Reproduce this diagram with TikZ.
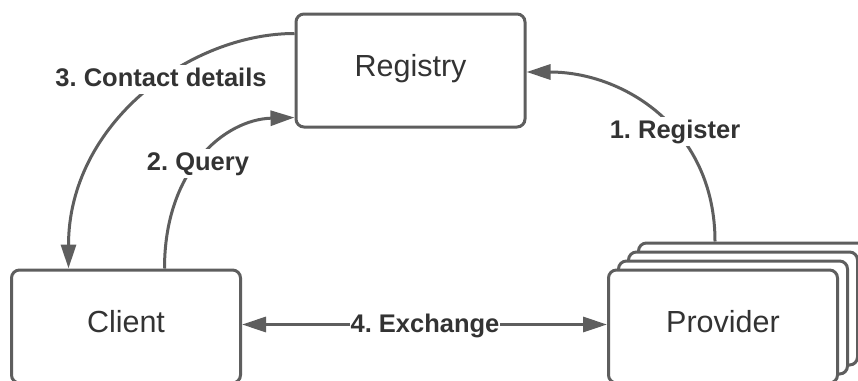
\documentclass[tikz,border=0pt]{standalone}
\usepackage{fontspec}
\setmainfont{Liberation Sans}
\usetikzlibrary{arrows.meta,calc}
\definecolor{edge}{HTML}{5E5E5E}
\definecolor{ink}{HTML}{333333}
\frenchspacing

\begin{document}
\begin{tikzpicture}[x=1pt,y=1pt,
  box/.style={draw=edge, line width=3pt, rounded corners=8pt, fill=white,
    minimum width=229pt, minimum height=113pt, inner sep=0pt,
    font=\fontsize{30.5}{36}\selectfont, text=ink,
    text height=21.8pt, text depth=9pt},
  flow/.style={draw=edge, line width=3pt,
    -{Triangle[length=24pt,width=15pt]}},
  both/.style={draw=edge, line width=3pt,
    {Triangle[length=24pt,width=15pt]}-{Triangle[length=24pt,width=15pt]}},
  lbl/.style={fill=white, text=ink, inner xsep=2pt, inner ysep=3pt,
    font=\bfseries\fontsize{25.5}{30}\selectfont,
    text height=18.3pt, text depth=5pt}]

\clip (0,0) rectangle (858,-380);
\fill[white] (0,0) rectangle (858,-380);

% boxes
\node[box] (reg) at (410.5,-70.5) {Registry};
\node[box] (client) at (126,-326.5) {Client};

% stacked provider instances, back to front
\node[box] (p3) at (753,-299.5) {};
\node[box] (p2) at (743,-308.5) {};
\node[box] (p1) at (733,-317.5) {};
\node[box] (p0) at (723,-326.5) {Provider};

% anchor points on the box borders
\coordinate (regA) at ($(p3.north west)+(78,0)$);
\coordinate (regB) at ([yshift=-1.5pt]reg.east);
\coordinate (qA) at ($(client.north west)+(154.5,0)$);
\coordinate (qB) at ($(reg.south west)+(0,11)$);
\coordinate (cA) at ($(reg.north west)+(0,-21)$);
\coordinate (cB) at ($(client.north west)+(58.5,0)$);

% 1. register
\draw[flow] (regA) .. controls ($(regA)+(0,112)$) and ($(regB)+(98,0)$) .. (regB);
% 2. query
\draw[flow] (qA) .. controls ($(qA)+(0,100)$) and ($(qB)+(-69,-2)$) .. (qB);
% 3. contact details
\draw[flow] (cA) .. controls ($(cA)+(-105,0)$) and ($(cB)+(0,145)$) .. (cB);
% 4. exchange
\draw[both] ([yshift=2pt]client.east) -- ([yshift=2pt]p0.west);

% labels
\node[lbl] (l1) at (675,-131.5) {1. Register};
\node[lbl] (l2) at (198,-163.5) {2. Query};
\node[lbl] (l3) at (161,-79.5) {3. Contact details};
\node[lbl, inner xsep=1pt, inner ysep=1pt] (l4) at (425,-325.5) {4. Exchange};
\end{tikzpicture}
\end{document}
